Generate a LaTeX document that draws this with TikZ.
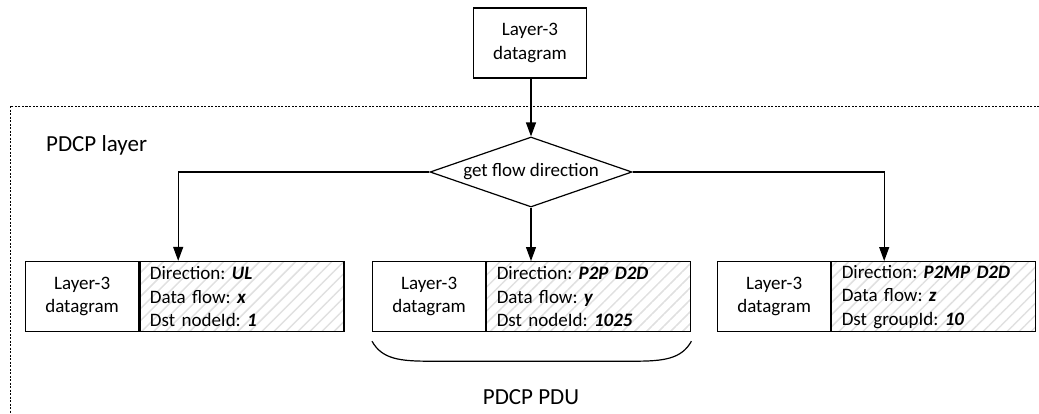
\documentclass[tikz,border=0pt]{standalone}
\usepackage{fontspec}
\setmainfont{Carlito}
\usetikzlibrary{shapes.geometric,arrows.meta,patterns.meta,calc}
\frenchspacing
\begin{document}
\begin{tikzpicture}[x=1pt,y=-1pt,
  box/.style={draw,line width=1.2pt,minimum height=70pt,inner sep=0pt,font=\fontsize{19}{23.5}\selectfont},
  lpart/.style={box,minimum width=113pt,align=center},
  rpart/.style={box,minimum width=204pt,text width=184pt,inner xsep=10pt,align=left,
    pattern={Lines[angle=45,distance=8.5pt,line width=1.5pt]},pattern color=black!12},
  arr/.style={line width=1.2pt,-{Triangle[length=14pt,width=10pt]}},
  bigtext/.style={font=\fontsize{23}{28}\selectfont,inner sep=0pt},
]
\useasboundingbox (0,0) rectangle (1039,413);

% frame
\draw[dash pattern=on 2pt off 1.5pt,line width=1pt] (1039,106) -- (10,106) -- (10,413);
\node[bigtext,anchor=base west] (pl) at (46,151) {PDCP layer};

% top box and diamond
\node[lpart] (top) at (530,43) {Layer-3\\datagram};
\node[draw,diamond,aspect=2.886,minimum width=202pt,minimum height=70pt,inner sep=0pt,
      line width=1.2pt,font=\fontsize{19}{23}\selectfont] (d) at (531,172) {get flow direction};

% PDUs
\node[lpart,anchor=north west] (l1) at (25,261) {Layer-3\\datagram};
\node[rpart,anchor=west] (r1) at (l1.east) {Direction: \textbf{\textit{UL}}\\Data flow: \textbf{\textit{x}}\\Dst nodeId: \textbf{\textit{1}}};

\node[lpart,anchor=north west] (l2) at (372,261) {Layer-3\\datagram};
\node[rpart,anchor=west] (r2) at (l2.east) {Direction: \textbf{\textit{P2P D2D}}\\Data flow: \textbf{\textit{y}}\\Dst nodeId: \textbf{\textit{1025}}};

\node[lpart,anchor=north west] (l3) at (717,261) {Layer-3\\datagram};
\node[rpart,anchor=west] (r3) at (l3.east) {Direction: \textbf{\textit{P2MP D2D}}\\Data flow: \textbf{\textit{z}}\\Dst groupId: \textbf{\textit{10}}};

% arrows
\draw[arr] (top.south -| d.north) -- (d.north);
\draw[arr] (d.south) -- (d.south |- r2.north);
\draw[arr] (d.west) -| ([xshift=39pt]r1.north west);
\draw[arr] (d.east) -| ([xshift=53pt]r3.north west);

% brace
\draw[line width=1.2pt]
  ($(l2.south west)+(0,9)$) .. controls ($(l2.south west)+(10,27)$) and ($(l2.south west)+(28,29)$) .. ($(l2.south west)+(58,29)$)
  -- ($(r2.south east)+(-58,29)$)
  .. controls ($(r2.south east)+(-28,29)$) and ($(r2.south east)+(-10,27)$) .. ($(r2.south east)+(0,9)$);
\node[bigtext] (pdu) at (531,397) {PDCP PDU};
\end{tikzpicture}
\end{document}
